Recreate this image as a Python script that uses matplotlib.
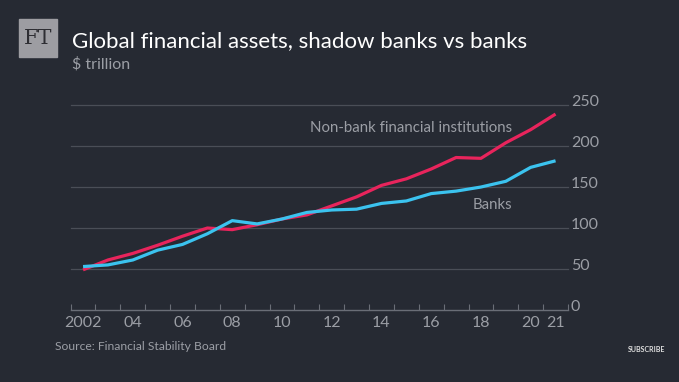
import matplotlib.pyplot as plt
import matplotlib.transforms as mtransforms
import numpy as np

years = np.arange(2002, 2022)
nonbank = [49, 61, 69, 79, 90, 100, 98, 104, 111, 116,
           127, 138, 152, 160, 172, 186, 185, 204, 220, 239]
banks = [53, 55, 61, 73, 80, 93, 109, 105, 111, 119,
         122, 123, 130, 133, 142, 145, 150, 157, 174, 182]
xlabels = ['2002', '04', '06', '08', '10', '12', '14', '16', '18', '20', '21']
xlabel_pos = [2002, 2004, 2006, 2008, 2010, 2012, 2014, 2016, 2018, 2020, 2021]
yticks = [0, 50, 100, 150, 200, 250]

bg = '#262a33'
grid_col = '#4a4e57'
txt_col = '#9b9ea5'
red = '#e8245c'
blue = '#3bc3ef'

plt.rcParams['font.family'] = ['Lato', 'DejaVu Sans']

fig = plt.figure(figsize=(6.79, 3.82), dpi=100, facecolor=bg)
ax = fig.add_axes([0.104, 0.1885, 0.7325, 0.5365], facecolor=bg)

ax.plot(years, nonbank, color=red, lw=2.3, solid_capstyle='butt', zorder=3, clip_on=False)
ax.plot(years, banks, color=blue, lw=2.3, solid_capstyle='butt', zorder=4, clip_on=False)

ax.set_xlim(2001.5, 2021.5)
ax.set_ylim(0, 250)

for s in ax.spines.values():
    s.set_visible(False)
ax.axhline(0, color='#6a6e77', lw=1, zorder=2, clip_on=False)
for v in yticks[1:]:
    ax.axhline(v, color=grid_col, lw=0.9, zorder=1, clip_on=False)

# year tick marks at half-year boundaries, pointing up
ax.set_xticks(np.arange(2001.5, 2022, 1.0), minor=True)
ax.set_xticks(xlabel_pos)
ax.set_xticklabels(xlabels)
ax.tick_params(axis='x', which='minor', direction='in', length=4, width=0.8,
               color='#6a6e77', bottom=True, top=False)
ax.tick_params(axis='x', which='major', length=0, pad=4, labelsize=11.5,
               labelcolor=txt_col)

ax.yaxis.tick_right()
ax.set_yticks(yticks)
ax.set_yticklabels([str(v) for v in yticks])
ax.tick_params(axis='y', length=0, pad=2, labelsize=11.5, labelcolor=txt_col)
off = mtransforms.ScaledTranslation(0, 3 / 72, fig.dpi_scale_trans)
for lab in ax.get_yticklabels():
    lab.set_transform(lab.get_transform() + off)

ax.text(2019.25, 222, 'Non-bank financial institutions', color=txt_col,
        fontsize=10.8, ha='right', va='center')
ax.text(2019.25, 128, 'Banks', color=txt_col, fontsize=10.8,
        ha='right', va='center')

# FT logo
fig.patches.append(plt.Rectangle((19 / 679, 1 - 57 / 382), 38 / 679, 38 / 382,
                                 transform=fig.transFigure, color='#9d9da2'))
fig.text(38 / 679, 1 - 38 / 382, 'FT', family='DejaVu Serif', fontsize=15,
         color='#2e2e33', ha='center', va='center')

fig.text(72 / 679, 1 - 47 / 382, 'Global financial assets, shadow banks vs banks',
         color='white', fontsize=16, ha='left', va='baseline')
fig.text(72 / 679, 1 - 68 / 382, '$ trillion', color=txt_col, fontsize=11.5,
         ha='left', va='baseline')
fig.text(55 / 679, 1 - 347 / 382, 'Source: Financial Stability Board',
         color=txt_col, fontsize=8.7, ha='left', va='center')
fig.text(665 / 679, 1 - 350 / 382, 'SUBSCRIBE', color='#e0e0e0', fontsize=5,
         fontweight='bold', ha='right', va='center')

fig.savefig('out.png', dpi=100, facecolor=bg)
